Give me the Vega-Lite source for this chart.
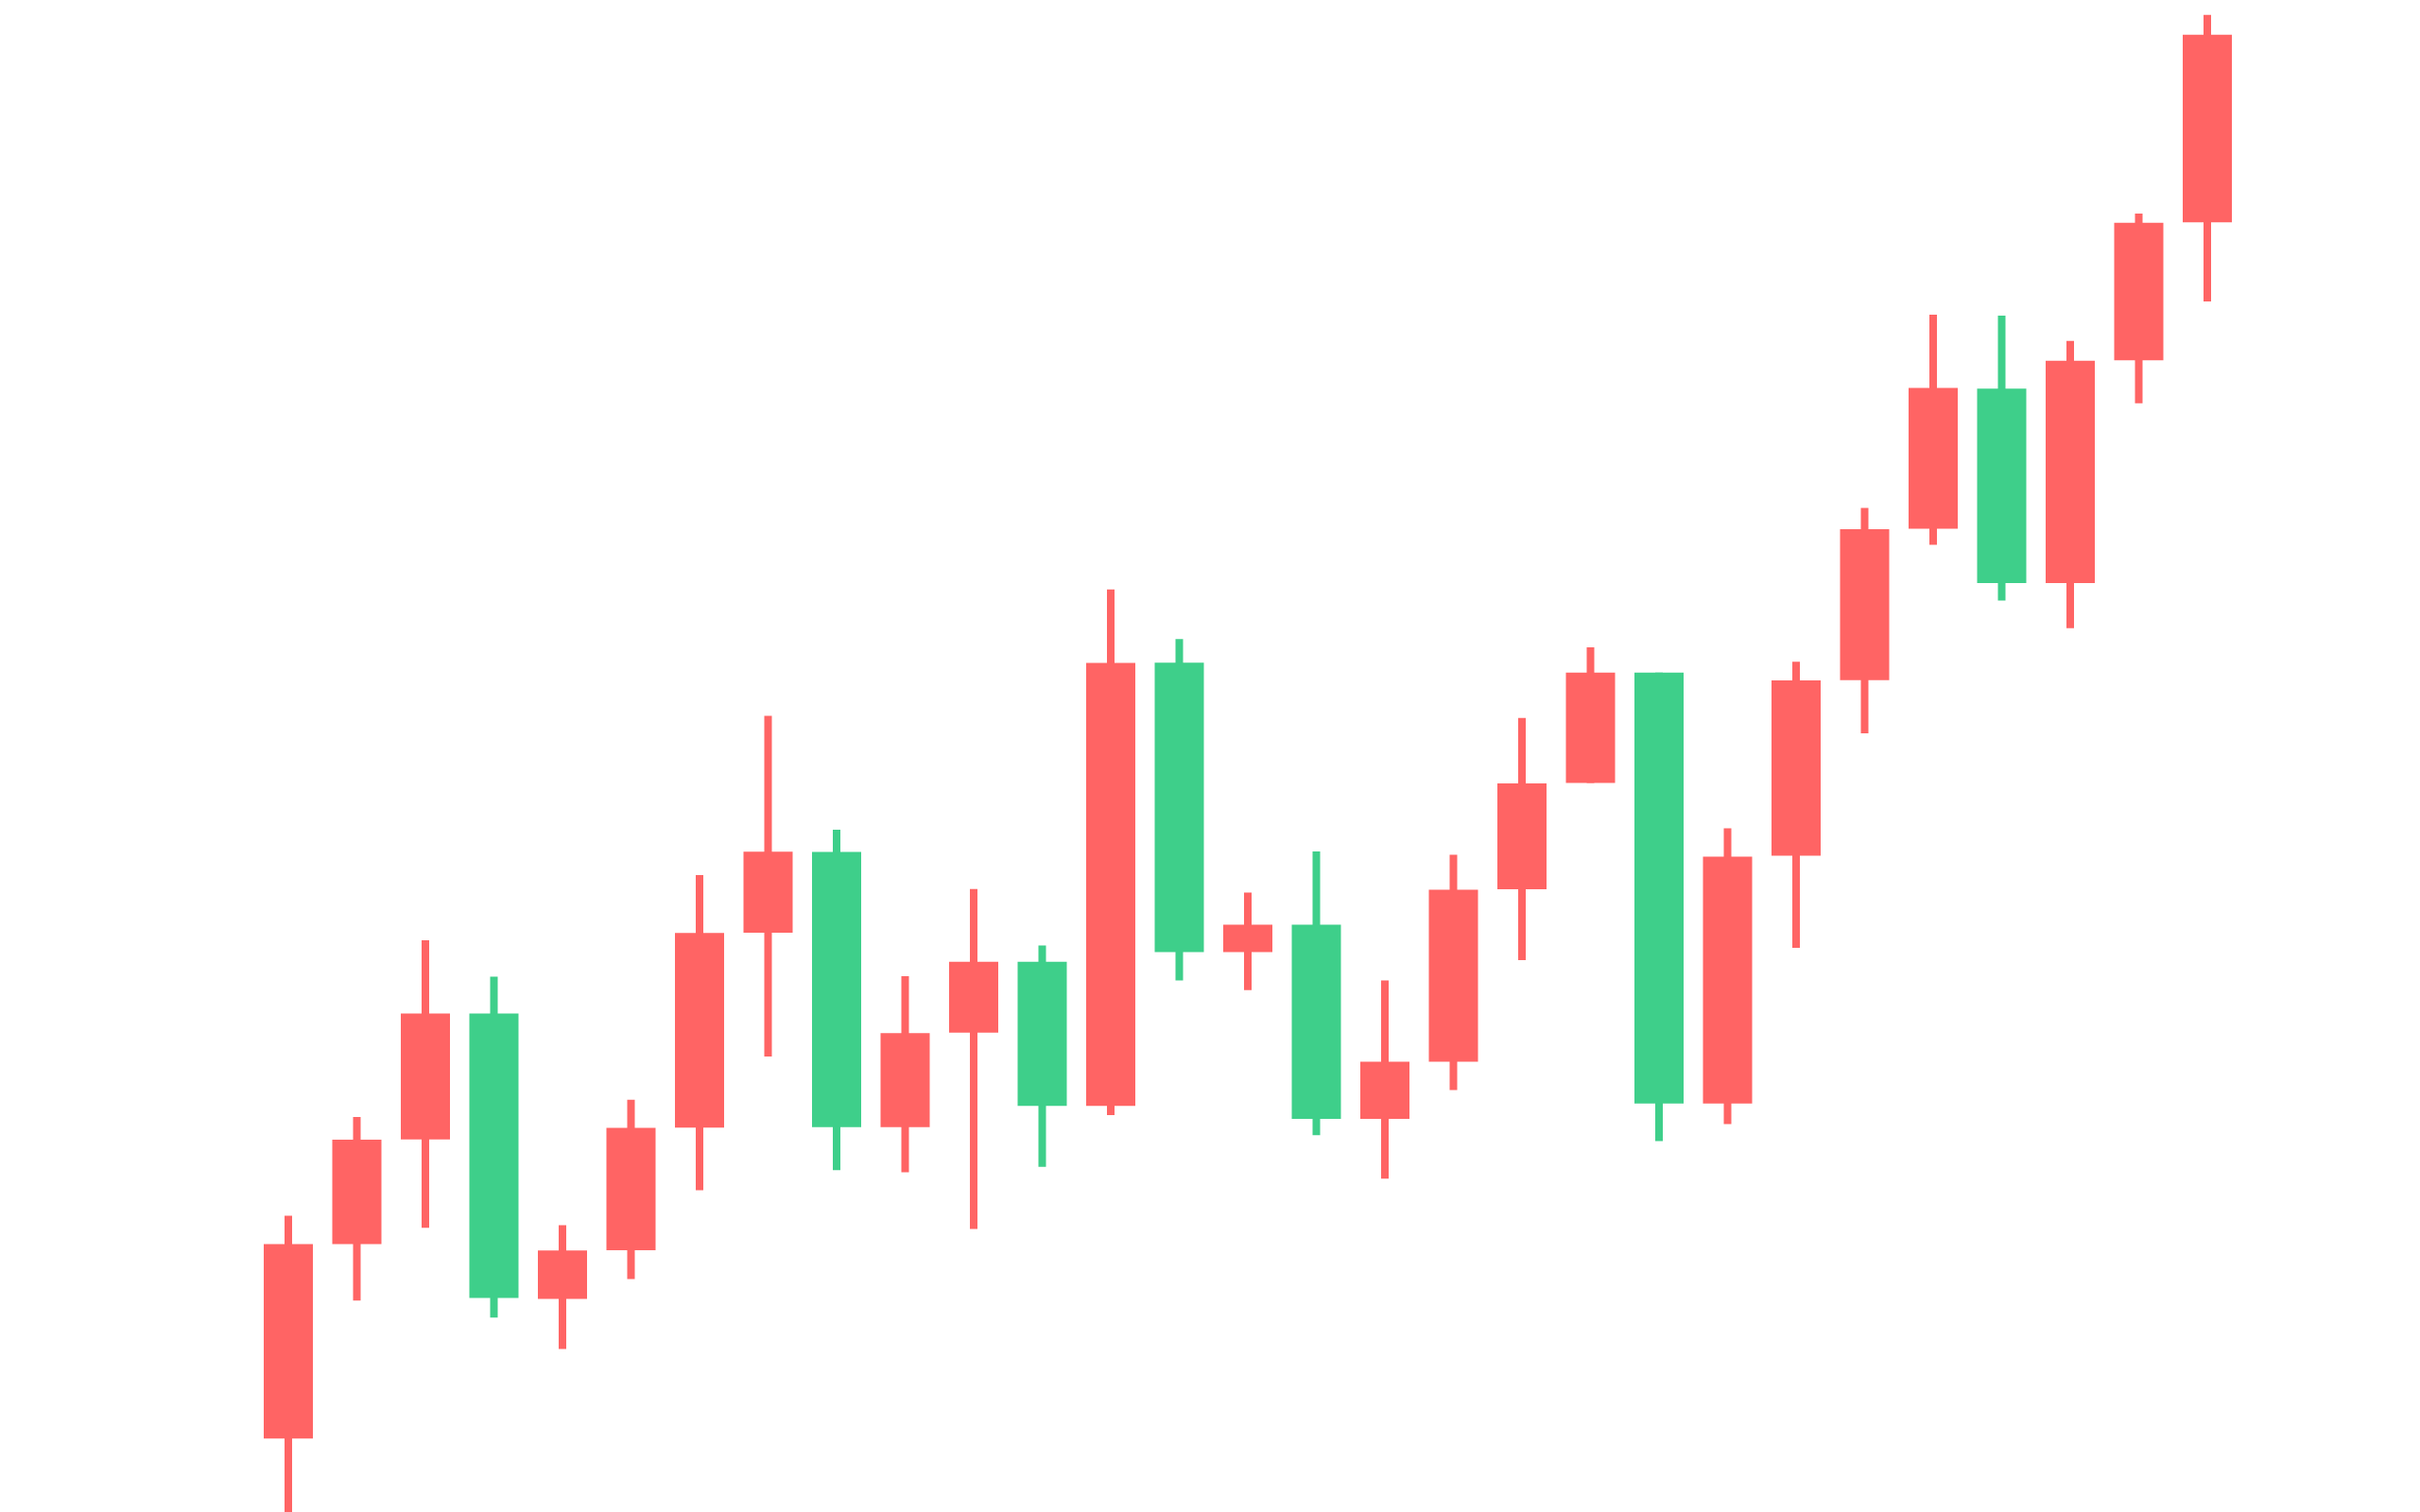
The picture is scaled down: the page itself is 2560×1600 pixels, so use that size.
{
  "$schema": "https://vega.github.io/schema/vega-lite/v6.json",
  "autosize": "none",
  "padding": 0,
  "width": 2560,
  "height": 1600,
  "background": "#ffffff",
  "config": {"view": {"stroke": null}},
  "data": {
    "values": [
      {"i": 1, "open": 77.7, "high": 313.4, "low": -20, "close": 283.5},
      {"i": 2, "open": 283.5, "high": 417.9, "low": 223.8, "close": 394.1},
      {"i": 3, "open": 394.3, "high": 604.9, "low": 300.8, "close": 527.5},
      {"i": 4, "open": 527.5, "high": 566.6, "low": 205.8, "close": 226.6},
      {"i": 5, "open": 225.5, "high": 303.5, "low": 172.6, "close": 276.8},
      {"i": 6, "open": 277.1, "high": 436.2, "low": 246.4, "close": 406.6},
      {"i": 7, "open": 406.7, "high": 674.1, "low": 340.6, "close": 612.7},
      {"i": 8, "open": 612.9, "high": 842.4, "low": 482.0, "close": 698.7},
      {"i": 9, "open": 698.6, "high": 722.0, "low": 361.8, "close": 407.3},
      {"i": 10, "open": 407.3, "high": 567.0, "low": 359.4, "close": 506.8},
      {"i": 11, "open": 507.2, "high": 659.3, "low": 299.6, "close": 582.3},
      {"i": 12, "open": 582.3, "high": 599.6, "low": 365.2, "close": 429.8},
      {"i": 13, "open": 429.8, "high": 976.2, "low": 420.0, "close": 898.6},
      {"i": 14, "open": 898.7, "high": 923.7, "low": 562.5, "close": 592.4},
      {"i": 15, "open": 592.4, "high": 655.4, "low": 552.2, "close": 621.4},
      {"i": 16, "open": 621.4, "high": 699.1, "low": 398.7, "close": 416.1},
      {"i": 17, "open": 416.1, "high": 562.5, "low": 352.7, "close": 476.5},
      {"i": 18, "open": 476.5, "high": 695.5, "low": 446.4, "close": 658.5},
      {"i": 19, "open": 659.0, "high": 840.3, "low": 583.9, "close": 771.0},
      {"i": 20, "open": 771.5, "high": 915.0, "low": 771.5, "close": 888.3},
      {"i": 21, "open": 888.3, "high": 888.3, "low": 392.5, "close": 432.2},
      {"i": 22, "open": 432.2, "high": 723.5, "low": 410.4, "close": 693.5},
      {"i": 23, "open": 694.5, "high": 899.7, "low": 597.0, "close": 880.0},
      {"i": 24, "open": 880.2, "high": 1062.4, "low": 824.0, "close": 1040.1},
      {"i": 25, "open": 1040.5, "high": 1266.9, "low": 1023.6, "close": 1189.6},
      {"i": 26, "open": 1188.7, "high": 1266.0, "low": 964.6, "close": 982.9},
      {"i": 27, "open": 982.9, "high": 1239.2, "low": 935.2, "close": 1218.2},
      {"i": 28, "open": 1218.7, "high": 1374.0, "low": 1173.3, "close": 1364.3},
      {"i": 29, "open": 1364.7, "high": 1584.3, "low": 1281.0, "close": 1563.3}
    ]
  },
  "encoding": {
    "x": {
      "field": "i",
      "type": "quantitative",
      "scale": {"domain": [-3.2069, 32.1034], "nice": false, "zero": false, "padding": 0},
      "axis": null
    },
    "color": {
      "condition": {"test": "datum.open < datum.close", "value": "#ff6464"},
      "value": "#3ecf8a"
    }
  },
  "layer": [
    {
      "mark": {"type": "rule", "strokeWidth": 8, "clip": true},
      "encoding": {
        "y": {
          "field": "low",
          "type": "quantitative",
          "scale": {"domain": [0, 1600], "nice": false, "zero": false, "padding": 0},
          "axis": null
        },
        "y2": {"field": "high"}
      }
    },
    {
      "mark": {"type": "bar", "width": 52, "clip": true},
      "encoding": {
        "y": {"field": "open", "type": "quantitative"},
        "y2": {"field": "close"}
      }
    }
  ]
}
